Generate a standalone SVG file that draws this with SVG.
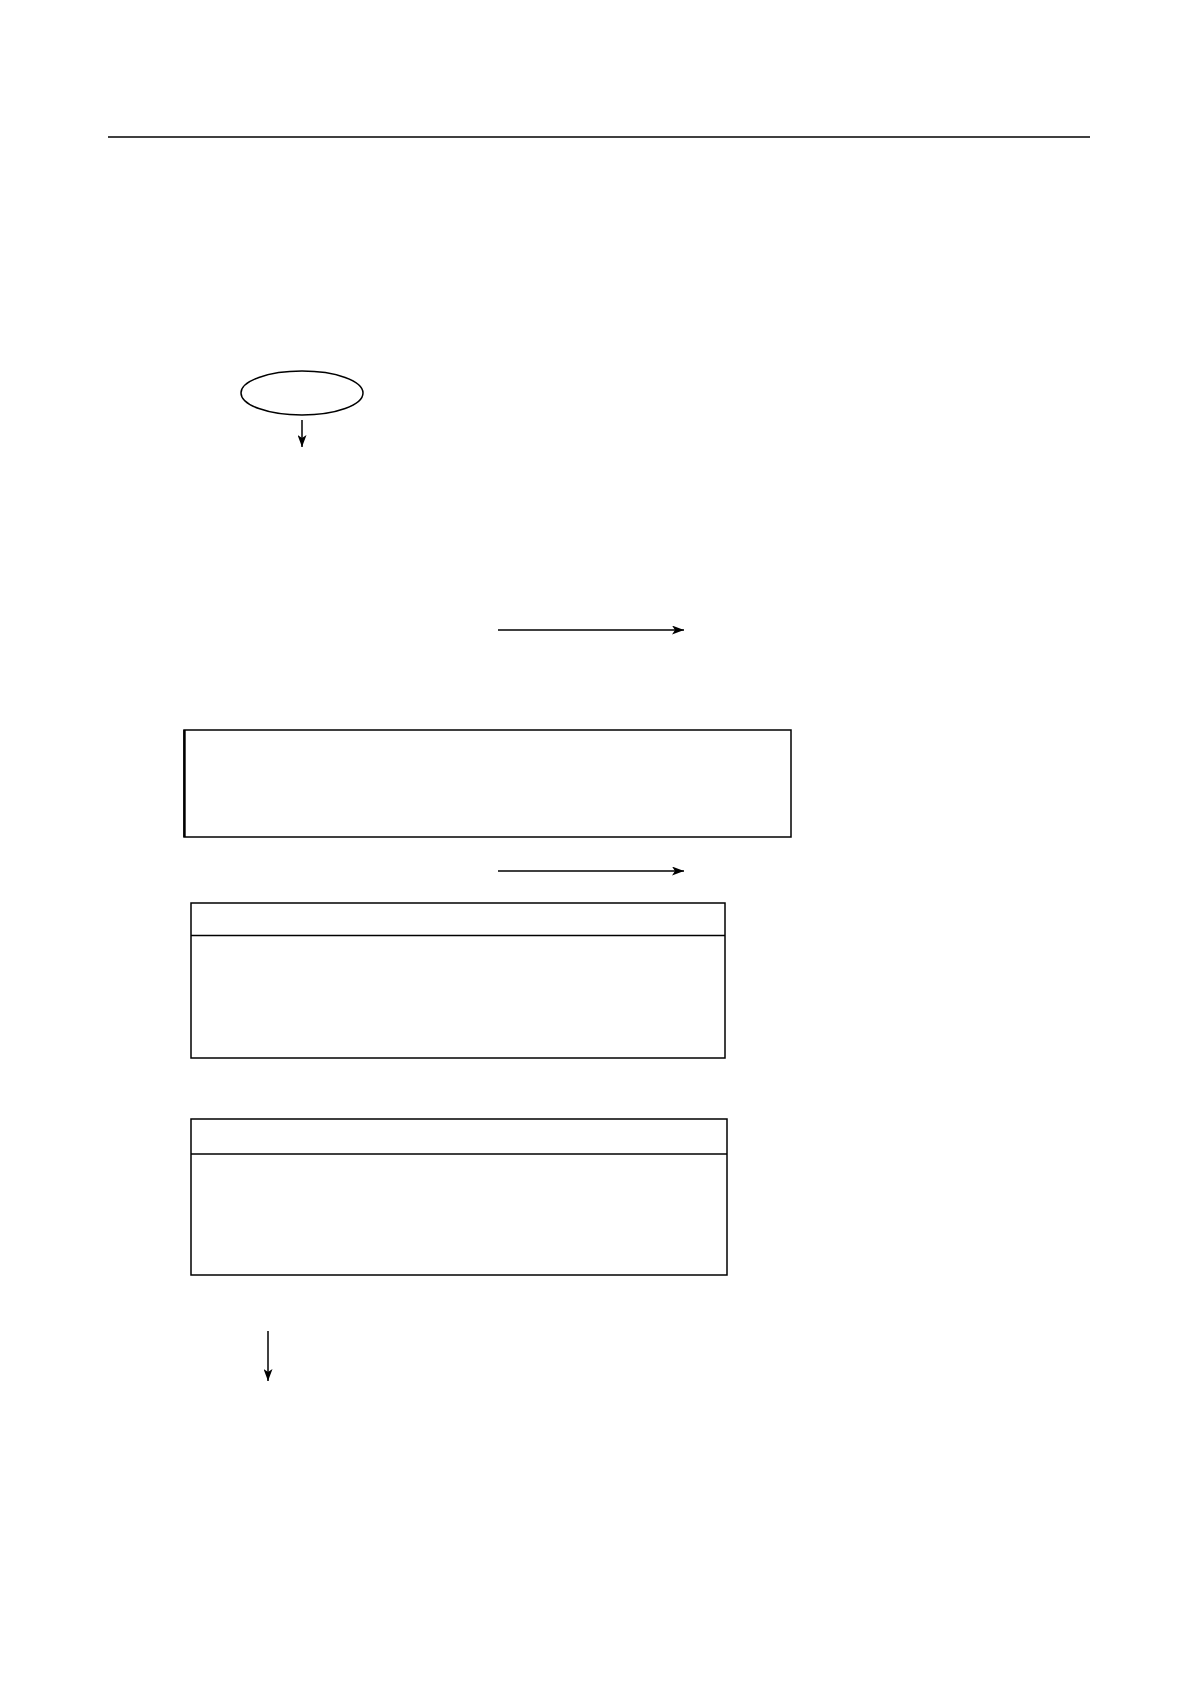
<svg xmlns="http://www.w3.org/2000/svg" width="1190" height="1684" viewBox="0 0 1190 1684">
<style>
.s{fill:none;stroke:#000;stroke-width:1.5}
.c{fill:none;stroke:#000;stroke-width:1.5}
</style>
<defs>
<marker id="ah" viewBox="0 0 12 9" refX="12" refY="4.5" markerWidth="12" markerHeight="9" markerUnits="userSpaceOnUse" orient="auto">
<path d="M0,0 L12,4.5 L0,9 L3,4.5 Z" fill="#000"/>
</marker>
</defs>
<rect width="1190" height="1684" fill="#fff"/>
<line x1="108" y1="137" x2="1090" y2="137" class="s"/>
<g id="start"><ellipse cx="302" cy="393" rx="61" ry="22" class="s"/></g>
<g id="box1"><rect x="184" y="730" width="607" height="107" class="s"/><line x1="184.5" y1="730" x2="184.5" y2="837" stroke="#000" stroke-width="2.4"/></g>
<g id="box2"><rect x="191" y="903" width="534" height="155" class="s"/><line x1="191" y1="935.5" x2="725" y2="935.5" class="s"/></g>
<g id="box3"><rect x="191" y="1119" width="536" height="156" class="s"/><line x1="191" y1="1154" x2="727" y2="1154" class="s"/></g>
<g id="connectors">
<line x1="302" y1="420" x2="302" y2="447" class="c" marker-end="url(#ah)"/>
<line x1="498" y1="630" x2="684" y2="630" class="c" marker-end="url(#ah)"/>
<line x1="498" y1="871" x2="684" y2="871" class="c" marker-end="url(#ah)"/>
<line x1="268" y1="1331" x2="268" y2="1381" class="c" stroke-width="1.8" marker-end="url(#ah)"/>
</g>
</svg>
